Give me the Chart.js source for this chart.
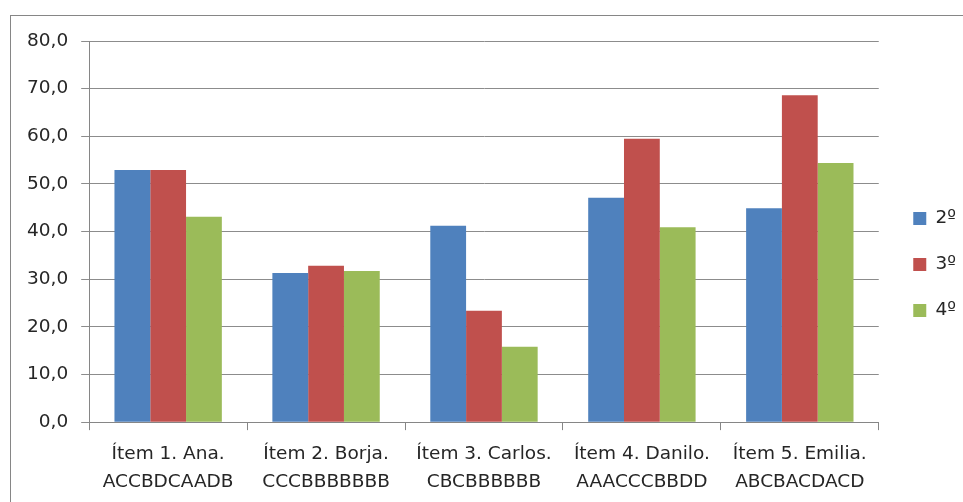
<!DOCTYPE html>
<html>
<head>
<meta charset="utf-8">
<script src="https://cdn.jsdelivr.net/npm/chart.js@4/dist/chart.umd.min.js"></script>
<style>
  html, body { margin: 0; padding: 0; background: #fff; }
  #wrap { position: relative; width: 963px; height: 502px; overflow: hidden; }
  #frame { position: absolute; left: 10px; top: 15px; width: 980px; height: 520px; border: 1px solid #868686; box-sizing: border-box; }
  #chart { position: absolute; left: 0; top: 0; }
</style>
</head>
<body>
<div id="wrap">
  <div id="frame"></div>
  <canvas id="chart" width="963" height="502"></canvas>
</div>
<script>
// categories (two-line labels)
const categories = [
  ["Ítem 1. Ana.", "ACCBDCAADB"],
  ["Ítem 2. Borja.", "CCCBBBBBBB"],
  ["Ítem 3. Carlos.", "CBCBBBBBB"],
  ["Ítem 4. Danilo.", "AAACCCBBDD"],
  ["Ítem 5. Emilia.", "ABCBACDACD"]
];
const seriesNames = ["2º", "3º", "4º"];
const values2 = [52.9, 31.3, 41.2, 47.1, 44.9];
const values3 = [52.9, 32.8, 23.4, 59.5, 68.6];
const values4 = [43.1, 31.7, 15.8, 40.9, 54.4];
const colors = ["#4F81BD", "#C0504D", "#9BBB59"];
const yTicks = [0, 10, 20, 30, 40, 50, 60, 70, 80];

const font = { family: "DejaVu Sans", size: 18.5 };
const legendShift = -9;

// nudge the legend up a bit after layout
const moveLegend = {
  id: "moveLegend",
  afterLayout(chart) {
    chart.legend.top += legendShift;
    chart.legend.bottom += legendShift;
  }
};

new Chart(document.getElementById("chart"), {
  type: "bar",
  data: {
    labels: categories,
    datasets: [values2, values3, values4].map((d, i) => ({
      label: seriesNames[i],
      data: d,
      backgroundColor: colors[i],
      borderWidth: 0,
      barPercentage: 1,
      categoryPercentage: 0.68
    }))
  },
  plugins: [moveLegend],
  options: {
    responsive: false,
    animation: false,
    layout: { padding: { left: 14, top: 41, right: -3, bottom: -4 } },
    plugins: {
      tooltip: { enabled: false },
      legend: {
        position: "right",
        labels: {
          font: font,
          color: "#262626",
          boxWidth: 13,
          boxHeight: 13,
          padding: 27.5
        }
      }
    },
    scales: {
      x: {
        grid: { drawOnChartArea: false, drawTicks: true, tickLength: 8, color: "#868686", offset: true },
        border: { color: "#868686" },
        ticks: { font: { ...font, lineHeight: 1.51 }, color: "#262626", padding: 10, maxRotation: 0 }
      },
      y: {
        min: 0,
        max: 80,
        afterBuildTicks: (axis) => { axis.ticks = yTicks.map(v => ({ value: v })); },
        grid: { color: "#8c8c8c", tickLength: 8 },
        border: { color: "#868686" },
        ticks: {
          font: font,
          color: "#262626",
          padding: 13,
          callback: (v) => v.toFixed(1).replace(".", ",")
        }
      },
      // empty axis, only keeps a gap between plot and legend
      gap: {
        position: "right",
        display: true,
        grid: { display: false },
        border: { display: false },
        ticks: { display: false },
        afterFit: (axis) => { axis.width = 7; }
      }
    }
  }
});
</script>
</body>
</html>
